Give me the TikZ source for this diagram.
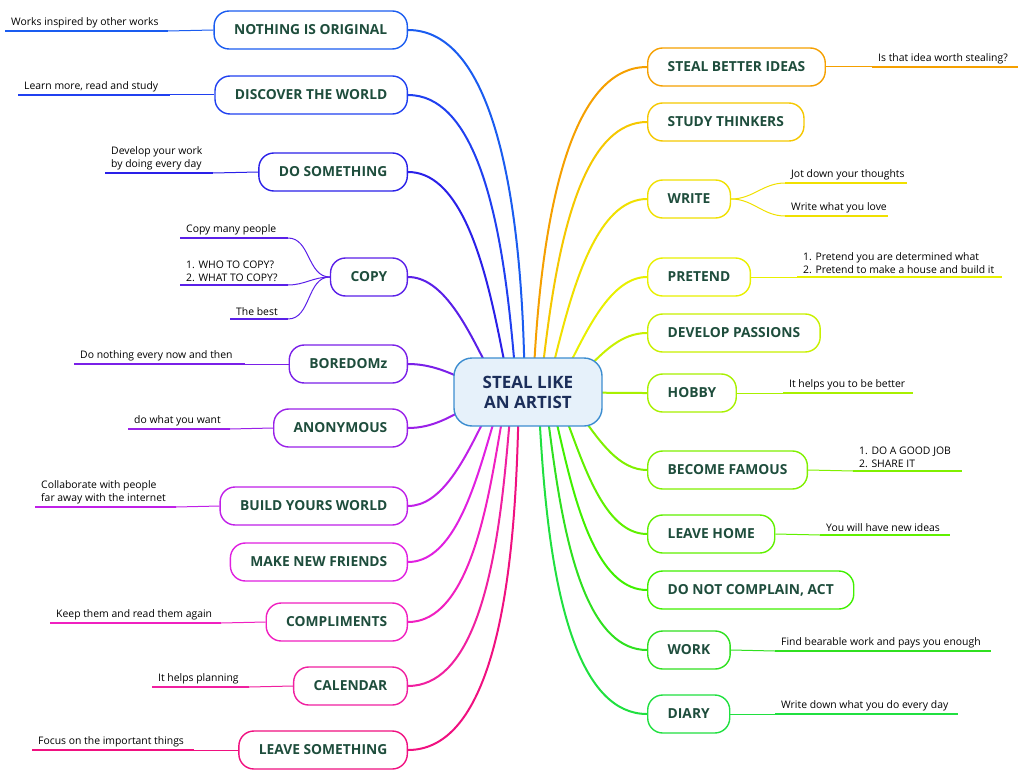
\documentclass[tikz,border=0pt]{standalone}
\usepackage{fontspec}
\setmainfont{Open Sans}
\usetikzlibrary{backgrounds}
\definecolor{txt}{HTML}{1E4D3C}
\definecolor{rootb}{HTML}{3C8DD0}
\definecolor{rootf}{HTML}{E6F1FA}
\definecolor{navy}{HTML}{1B2E5A}
\definecolor{cL1}{HTML}{1A5CF0}
\definecolor{cL2}{HTML}{2040F0}
\definecolor{cL3}{HTML}{2A20E8}
\definecolor{cL4}{HTML}{5A20E8}
\definecolor{cL5}{HTML}{7A20E8}
\definecolor{cL6}{HTML}{9A20E8}
\definecolor{cL7}{HTML}{C020E8}
\definecolor{cL8}{HTML}{E020E0}
\definecolor{cL9}{HTML}{F020C0}
\definecolor{cL10}{HTML}{F020A0}
\definecolor{cL11}{HTML}{F01080}
\definecolor{cR1}{HTML}{F5A000}
\definecolor{cR2}{HTML}{F5C800}
\definecolor{cR3}{HTML}{F0E000}
\definecolor{cR4}{HTML}{E8F000}
\definecolor{cR5}{HTML}{C8F000}
\definecolor{cR6}{HTML}{A8F000}
\definecolor{cR7}{HTML}{80F000}
\definecolor{cR8}{HTML}{60F000}
\definecolor{cR9}{HTML}{40F000}
\definecolor{cR10}{HTML}{30E020}
\definecolor{cR11}{HTML}{20E040}
\begin{document}
\begin{tikzpicture}[x=1pt, y=-1pt,
	branch/.style={draw=#1, line width=1.4pt, rounded corners=15pt, fill=white, minimum height=38pt, inner xsep=20pt, font=\bfseries\fontsize{13.8}{16}\selectfont, text=txt},
	leaf/.style={font=\fontsize{10.4}{13}\selectfont, align=left, inner sep=2pt, anchor=south west},
	under/.style={draw=#1, line width=2.5pt},
	link/.style={draw=#1, line width=1pt},
	stem/.style={draw=#1, line width=2pt}]
	\useasboundingbox (0,0) rectangle (1024,778);
	\node[draw=rootb, fill=rootf, line width=1.4pt, rounded corners=18pt, minimum width=148pt, minimum height=68pt, align=center, font=\bfseries\fontsize{17}{20}\selectfont, text=navy] (root) at (528,392) {STEAL LIKE\\AN ARTIST};
	% left branches
	\foreach \n/\y/\c/\a/\t in {orig/30/cL1/265/NOTHING IS ORIGINAL, disc/95/cL2/260/DISCOVER THE WORLD, dosth/172/cL3/255/DO SOMETHING, copy/277/cL4/245/COPY, bore/364/cL5/190/BOREDOMz, anon/428/cL6/170/ANONYMOUS, build/506/cL7/120/BUILD YOURS WORLD, friends/562/cL8/115/MAKE NEW FRIENDS, compl/622/cL9/110/COMPLIMENTS, cal/686/cL10/105/CALENDAR, leave/750/cL11/100/LEAVE SOMETHING}{
		\node[branch=\c, anchor=east] (\n) at (408,\y) {\t};
		\begin{scope}[on background layer]
			\draw[stem=\c] (root.center) to[out=\a, in=0] (\n.east);
		\end{scope}
	}
	% right branches
	\foreach \n/\y/\c/\a/\t in {better/67/cR1/275/STEAL BETTER IDEAS, study/122/cR2/280/STUDY THINKERS, write/199/cR3/285/WRITE, pretend/277/cR4/295/PRETEND, passion/333/cR5/340/DEVELOP PASSIONS, hobby/393/cR6/0/HOBBY, famous/470/cR7/40/BECOME FAMOUS, home/534/cR8/60/LEAVE HOME, act/590/cR9/70/{DO NOT COMPLAIN, ACT}, work/650/cR10/75/WORK, diary/714/cR11/80/DIARY}{
		\node[branch=\c, anchor=west] (\n) at (647,\y) {\t};
		\begin{scope}[on background layer]
			\draw[stem=\c] (root.center) to[out=\a, in=180] (\n.west);
		\end{scope}
	}
	% left leaves
	\foreach \i/\x/\xe/\y/\c/\n/\t in {1/5/168/31/cL1/orig/Works inspired by other works, 2/18/170/95/cL2/disc/{Learn more, read and study}, 3/105/213/173/cL3/dosth/{Develop your work\\by doing every day}, 4/74/245/364/cL5/bore/Do nothing every now and then, 5/128/230/429/cL6/anon/do what you want, 6/35/176/507/cL7/build/{Collaborate with people\\far away with the internet}, 7/50/221/623/cL9/compl/Keep them and read them again, 8/152/249/687/cL10/cal/It helps planning, 9/32/194/750/cL11/leave/Focus on the important things}{
		\coordinate (la\i) at (\x,\y);
		\coordinate (lb\i) at (\xe,\y);
		\node[leaf] (lt\i) at (\x+4,\y-1) {\t};
		\draw[under=\c] (la\i) -- (lb\i);
		\draw[link=\c] (lb\i) -- (\n.west);
	}
	\foreach \i/\x/\y/\t in {1/180/238/Copy many people, 2/180/285/{1. WHO TO COPY?\\2. WHAT TO COPY?}, 3/230/319/The best}{
		\coordinate (ca\i) at (\x,\y);
		\coordinate (cb\i) at (288,\y);
		\node[leaf] (ct\i) at (\x+4,\y-1) {\t};
		\draw[under=cL4] (ca\i) -- (cb\i);
		\draw[link=cL4] (cb\i) to[out=0, in=180] (copy.west);
	}
	% right leaves
	\foreach \i/\x/\xe/\y/\c/\n/\t in {1/872/1018/67/cR1/better/Is that idea worth stealing?, 2/797/1002/277/cR4/pretend/{1. Pretend you are determined what\\2. Pretend to make a house and build it}, 3/783/913/393/cR6/hobby/It helps you to be better, 4/853/962/471/cR7/famous/{1. DO A GOOD JOB\\2. SHARE IT}, 5/820/950/535/cR8/home/You will have new ideas, 6/775/991/651/cR10/work/Find bearable work and pays you enough, 7/775/958/714/cR11/diary/Write down what you do every day}{
		\coordinate (ra\i) at (\x,\y);
		\coordinate (rb\i) at (\xe,\y);
		\node[leaf] (rt\i) at (\x+4,\y-1) {\t};
		\draw[under=\c] (ra\i) -- (rb\i);
		\draw[link=\c] (\n.east) -- (ra\i);
	}
	\foreach \i/\xe/\y/\t in {1/907/183/Jot down your thoughts, 2/888/216/Write what you love}{
		\coordinate (wa\i) at (785,\y);
		\coordinate (wb\i) at (\xe,\y);
		\node[leaf] (wt\i) at (789,\y-1) {\t};
		\draw[under=cR3] (wa\i) -- (wb\i);
		\draw[link=cR3] (write.east) to[out=0, in=180] (wa\i);
	}
\end{tikzpicture}
\end{document}
